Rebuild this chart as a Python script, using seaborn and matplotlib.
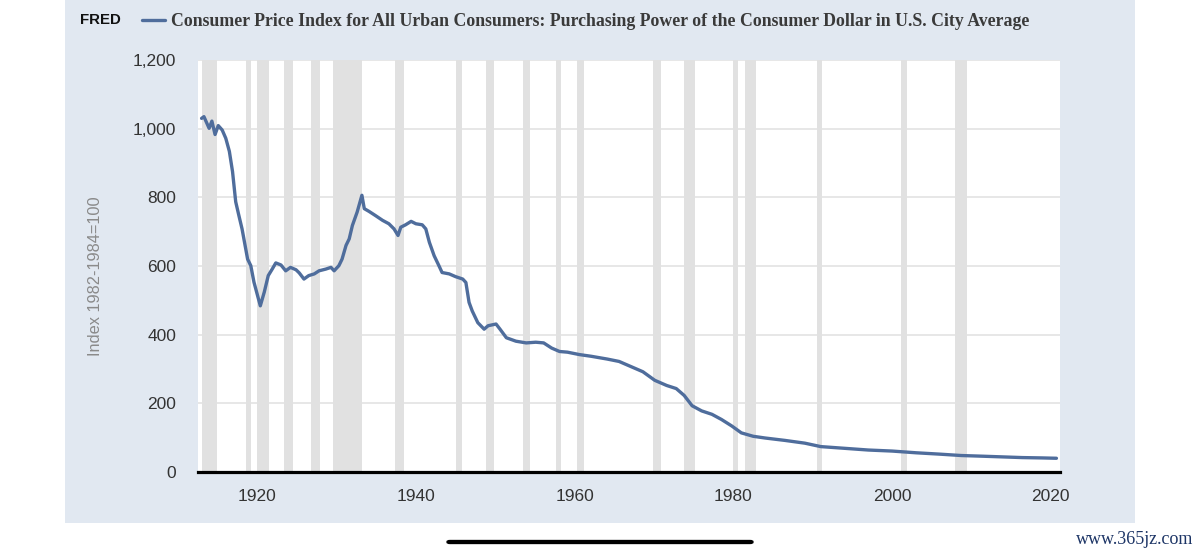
import matplotlib
matplotlib.use("Agg")
import matplotlib.pyplot as plt
from matplotlib.patches import Rectangle, FancyBboxPatch
from matplotlib.lines import Line2D
from matplotlib.ticker import FuncFormatter
import seaborn as sns
import pandas as pd

# ---- data ----
years = [1913.0, 1913.3, 1913.95, 1914.3, 1914.7, 1915.1, 1915.6, 1916.05, 1916.5, 1916.9,
         1917.3, 1917.7, 1918.1, 1918.8, 1919.2, 1919.6, 1920.4, 1920.9, 1921.4, 1921.9,
         1922.35, 1923.0, 1923.6, 1924.2, 1924.9, 1925.3, 1925.9, 1926.5, 1927.2, 1927.8,
         1928.65, 1929.3, 1929.7, 1930.3, 1930.7, 1931.2, 1931.6, 1932.0, 1932.6, 1933.2,
         1933.5, 1934.1, 1934.9, 1935.8, 1936.6, 1937.25, 1937.75, 1938.1, 1938.7, 1939.4,
         1940.0, 1940.8, 1941.25, 1941.7, 1942.3, 1942.9, 1943.3, 1944.2, 1945.0, 1945.9,
         1946.3, 1946.7, 1947.1, 1947.8, 1948.6, 1949.1, 1950.1, 1950.6, 1951.4, 1952.6,
         1953.9, 1955.1, 1956.1, 1957.1, 1958.1, 1959.1, 1960.6, 1962.1, 1964.1, 1965.6,
         1967.1, 1968.6, 1970.1, 1971.6, 1972.8, 1973.8, 1974.8, 1976.0, 1977.3, 1978.5,
         1979.8, 1981.0, 1982.5, 1984.0, 1986.5, 1989.0, 1991.0, 1994.0, 1997.0, 2000.0,
         2003.0, 2006.0, 2008.7, 2011.4, 2013.9, 2016.4, 2018.9, 2020.7]
purchasing_power = [1030, 1035, 1001, 1022, 983, 1009, 996, 972, 934, 875,
                    787, 747, 708, 620, 601, 553, 484, 524, 572, 591,
                    609, 603, 586, 596, 589, 580, 562, 572, 577, 586,
                    591, 596, 586, 601, 620, 660, 679, 718, 757, 806,
                    767, 759, 747, 733, 723, 708, 689, 713, 720, 730,
                    723, 720, 708, 669, 630, 601, 581, 577, 569, 562,
                    552, 494, 469, 435, 416, 426, 431, 416, 391, 381,
                    376, 378, 376, 361, 351, 349, 342, 337, 329, 322,
                    307, 292, 267, 252, 243, 223, 193, 178, 168, 153,
                    134, 114, 104, 99, 92, 84, 74, 69, 64, 61,
                    56, 52, 48, 46, 44, 42, 41, 40]

recession_start = [1913.0, 1918.6, 1920.0, 1923.37, 1926.75, 1929.6, 1937.37, 1945.08,
                   1948.83, 1953.5, 1957.6, 1960.29, 1969.92, 1973.83, 1980.0, 1981.5,
                   1990.5, 2001.17, 2007.92]
recession_end = [1914.96, 1919.2, 1921.55, 1924.55, 1927.88, 1933.2, 1938.46, 1945.79,
                 1949.79, 1954.37, 1958.29, 1961.12, 1970.88, 1975.21, 1980.54, 1982.88,
                 1991.21, 2001.88, 2009.46]

x_ticks = [1920, 1940, 1960, 1980, 2000, 2020]
y_ticks = [0, 200, 400, 600, 800, 1000, 1200]

title = ("Consumer Price Index for All Urban Consumers: Purchasing Power of the "
         "Consumer Dollar in U.S. City Average")
y_label = "Index 1982-1984=100"

# ---- style ----
sns.set_theme(style="white")
plt.rcParams["font.family"] = ["Liberation Sans", "DejaVu Sans"]

W, H = 1200, 555
fig = plt.figure(figsize=(W / 100, H / 100), dpi=100, facecolor="white")

panel_color = "#e1e8f1"
fig.add_artist(Rectangle((65 / W, 1 - 523 / H), (1135 - 65) / W, 523 / H,
                         transform=fig.transFigure, facecolor=panel_color,
                         edgecolor="none", zorder=0))

ax = fig.add_axes([198 / W, 1 - 472 / H, (1060 - 198) / W, (472 - 60) / H])
ax.set_facecolor("white")

for s, e in zip(recession_start, recession_end):
    ax.axvspan(s, e, color="#e1e1e1", lw=0, zorder=1)

ax.set_yticks(y_ticks)
ax.yaxis.grid(True, color="#e3e3e3", lw=1.2, zorder=0.5)
ax.xaxis.grid(False)
ax.set_axisbelow(True)

df = pd.DataFrame({"year": years, "value": purchasing_power})
sns.lineplot(data=df, x="year", y="value", ax=ax, color="#4f6d9c",
             linewidth=2.4, estimator=None, zorder=3)

ax.set_xlim(1912.55, 2021.15)
ax.set_ylim(0, 1200)
ax.set_xticks(x_ticks)
ax.yaxis.set_major_formatter(FuncFormatter(lambda v, p: f"{int(v):,}"))

for side in ["top", "right", "left"]:
    ax.spines[side].set_visible(False)
ax.spines["bottom"].set_color("black")
ax.spines["bottom"].set_linewidth(2.3)
ax.spines["bottom"].set_zorder(4)

ax.tick_params(axis="x", direction="out", length=9, width=0.8, color="#c8d0dc",
               pad=3, labelsize=12.5, labelcolor="#333333")
ax.tick_params(axis="y", length=0, pad=15.5, labelsize=12.5, labelcolor="#333333")

ax.set_xlabel("")
ax.set_ylabel("")
fig.text(95 / W, 1 - 276 / H, y_label, rotation=90, ha="center", va="center",
         fontsize=11.8, color="#8a8a8a")

# header: FRED logo + legend swatch + title
fig.text(80 / W, 1 - 20 / H, "FRED", ha="left", va="center", fontsize=10.8,
         fontweight="bold", color="#111111")
fig.add_artist(Line2D([142 / W, 165 / W], [1 - 20 / H, 1 - 20 / H],
                      transform=fig.transFigure, color="#4f6d9c", lw=2.4))
fig.text(171 / W, 1 - 21 / H, title, ha="left", va="center", fontsize=12.8,
         fontweight="bold", color="#3a3a3a", family=["Liberation Serif", "DejaVu Serif"])

# bottom phone bar and watermark
fig.add_artist(FancyBboxPatch((450 / W, 1 - 542.5 / H), (750 - 450) / W, 1 / H,
                              boxstyle="round,pad=0.003", transform=fig.transFigure,
                              facecolor="black", edgecolor="black", lw=0))
fig.text(1193 / W, 1 - 540 / H, "www.365jz.com", ha="right", va="center",
         fontsize=13, color="#1d3566", family=["Liberation Serif", "DejaVu Serif"])

fig.savefig("out.png", dpi=100, facecolor="white")
